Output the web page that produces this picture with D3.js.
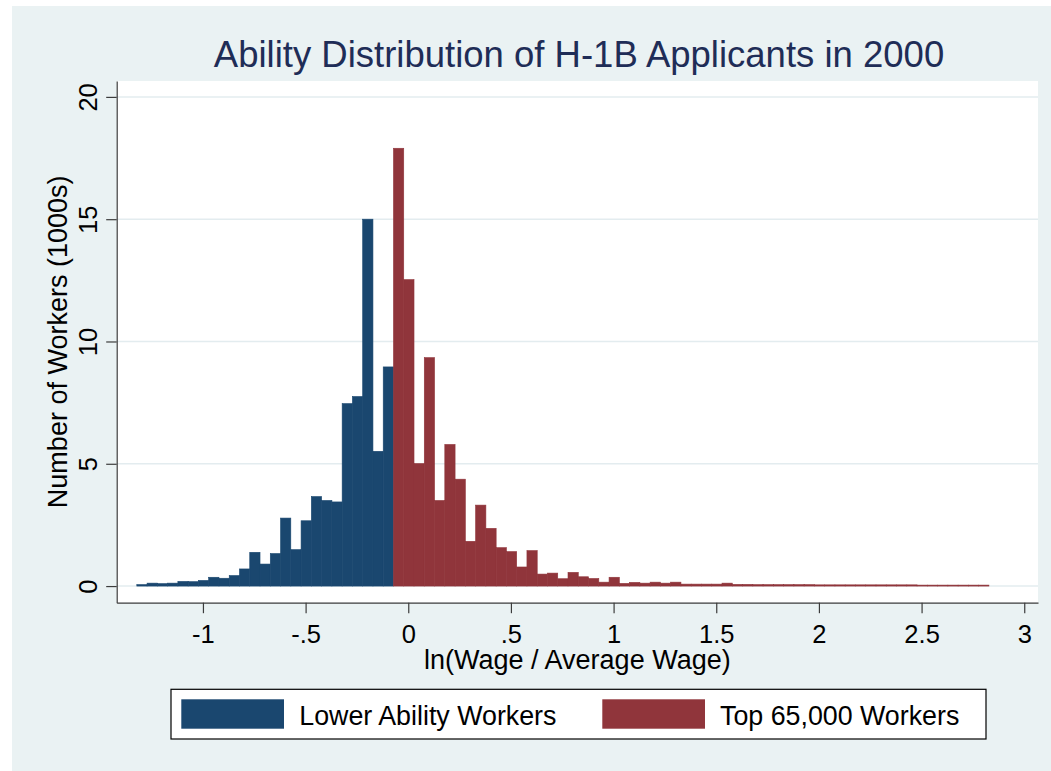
<!DOCTYPE html>
<html>
<head>
<meta charset="utf-8">
<script src="https://cdn.jsdelivr.net/npm/d3@7/dist/d3.min.js"></script>
<style>
  body { margin: 0; background: #ffffff; }
  svg text { font-family: "Liberation Sans", Arial, Helvetica, sans-serif; }
</style>
</head>
<body>
<div id="hist"></div>
<script>
// histogram bins: left edge of first bin and bin width (ln wage units)
var binStart = -1.322;
var binWidth = 0.05;

// counts in 1000s
var lowerCounts = [0.06, 0.12, 0.10, 0.12, 0.19, 0.18, 0.23, 0.36, 0.32, 0.43,
  0.70, 1.38, 0.90, 1.33, 2.78, 1.49, 2.67, 3.66, 3.50, 3.44,
  7.46, 7.75, 15.0, 5.51, 8.96];
var topCounts = [17.9, 12.53, 5.01, 9.34, 3.50, 5.79, 4.37, 1.83, 3.31, 2.36,
  1.57, 1.41, 0.78, 1.45, 0.49, 0.53, 0.30, 0.56, 0.38, 0.31,
  0.16, 0.36, 0.11, 0.15, 0.12, 0.16, 0.12, 0.16, 0.08, 0.08,
  0.08, 0.08, 0.12, 0.07, 0.07, 0.06, 0.06, 0.06, 0.06, 0.06,
  0.06, 0.05, 0.05, 0.05, 0.05, 0.05, 0.05, 0.05, 0.05, 0.05,
  0.05, 0.04, 0.04, 0.04, 0.04, 0.04, 0.04, 0.04];

var xTicks = [-1, -0.5, 0, 0.5, 1, 1.5, 2, 2.5, 3];
var yTicks = [0, 5, 10, 15, 20];
var seriesNames = ["Lower Ability Workers", "Top 65,000 Workers"];

var titleText = "Ability Distribution of H-1B Applicants in 2000";
var xTitle = "ln(Wage / Average Wage)";
var yTitle = "Number of Workers (1000s)";

histogram();

function histogram() {
  var width = 1051;
  var height = 771;
  var left = 116.7, right = 1038, top = 81, bottom = 602.7;
  var navy = "#1a476f";
  var maroon = "#90353b";

  var svg = d3.select("#hist")
    .append("svg")
    .attr("width", width)
    .attr("height", height);

  // graph region background
  svg.append("rect")
    .attr("x", 12)
    .attr("y", 6)
    .attr("width", width - 12)
    .attr("height", height - 6)
    .attr("fill", "#eaf2f3");

  // plot region
  svg.append("rect")
    .attr("x", left)
    .attr("y", top)
    .attr("width", right - left)
    .attr("height", bottom - top)
    .attr("fill", "#ffffff");

  var x = d3.scaleLinear()
    .domain([-1.42, 3.067])
    .range([left, right]);

  var y = d3.scaleLinear()
    .domain([-0.68, 20.65])
    .range([bottom, top]);

  // grid lines
  svg.selectAll("line.grid")
    .data(yTicks)
    .enter()
    .append("line")
    .attr("class", "grid")
    .attr("x1", left)
    .attr("x2", right)
    .attr("y1", function(d) { return y(d); })
    .attr("y2", function(d) { return y(d); })
    .attr("stroke", "#e3ecef")
    .attr("stroke-width", 1.5);

  var bars = [];
  lowerCounts.forEach(function(v, i) {
    bars.push({ x0: binStart + i * binWidth, v: v, c: navy });
  });
  topCounts.forEach(function(v, i) {
    var k = lowerCounts.length + i;
    bars.push({ x0: binStart + k * binWidth, v: v, c: maroon });
  });

  svg.selectAll("rect.bar")
    .data(bars)
    .enter()
    .append("rect")
    .attr("class", "bar")
    .attr("x", function(d) { return x(d.x0); })
    .attr("width", function(d) { return x(d.x0 + binWidth) - x(d.x0); })
    .attr("y", function(d) { return y(d.v); })
    .attr("height", function(d) { return y(0) - y(d.v); })
    .attr("fill", function(d) { return d.c; })
    .attr("stroke", function(d) { return d.c; })
    .attr("stroke-width", 0.6);

  // x axis
  var xAxis = svg.append("g")
    .attr("transform", "translate(0," + bottom + ")")
    .call(d3.axisBottom(x)
      .tickValues(xTicks)
      .tickSize(10.5)
      .tickSizeOuter(0)
      .tickPadding(5)
      .tickFormat(function(d) { return String(d).replace("0.", "."); }));
  xAxis.select(".domain").attr("stroke", "#3c3c3c").attr("stroke-width", 1.2);
  xAxis.selectAll(".tick line").attr("stroke", "#3c3c3c").attr("stroke-width", 1.2);
  xAxis.selectAll(".tick text")
    .attr("font-size", 25.5)
    .attr("fill", "#000")
    .attr("dy", 0)
    .attr("y", 40);

  // y axis
  var yAxis = svg.append("g")
    .attr("transform", "translate(" + left + ",0)")
    .call(d3.axisLeft(y)
      .tickValues(yTicks)
      .tickSize(10.5)
      .tickSizeOuter(0));
  yAxis.select(".domain").attr("stroke", "#3c3c3c").attr("stroke-width", 1.2);
  yAxis.selectAll(".tick line").attr("stroke", "#3c3c3c").attr("stroke-width", 1.2);
  yAxis.selectAll(".tick text")
    .attr("font-size", 25.5)
    .attr("fill", "#000")
    .attr("transform", "rotate(-90)")
    .attr("text-anchor", "middle")
    .attr("x", 0)
    .attr("y", -20)
    .attr("dy", 0);

  // titles
  svg.append("text")
    .attr("x", 579)
    .attr("y", 66.7)
    .attr("text-anchor", "middle")
    .attr("font-size", 36.5)
    .attr("fill", "#1f2d57")
    .text(titleText);

  svg.append("text")
    .attr("x", (left + right) / 2)
    .attr("y", 669)
    .attr("text-anchor", "middle")
    .attr("font-size", 27)
    .attr("fill", "#000")
    .text(xTitle);

  svg.append("text")
    .attr("transform", "translate(67," + ((top + bottom) / 2) + ") rotate(-90)")
    .attr("text-anchor", "middle")
    .attr("font-size", 27)
    .attr("fill", "#000")
    .text(yTitle);

  // legend
  var legend = svg.append("g");
  legend.append("rect")
    .attr("x", 171)
    .attr("y", 689.3)
    .attr("width", 815)
    .attr("height", 49.7)
    .attr("fill", "#ffffff")
    .attr("stroke", "#000")
    .attr("stroke-width", 1.2);

  var items = [
    { name: seriesNames[0], c: navy, sx: 181.3, tx: 299.3 },
    { name: seriesNames[1], c: maroon, sx: 602.3, tx: 720 }
  ];
  items.forEach(function(d) {
    legend.append("rect")
      .attr("x", d.sx)
      .attr("y", 699.3)
      .attr("width", 102.7)
      .attr("height", 29.4)
      .attr("fill", d.c);
    legend.append("text")
      .attr("x", d.tx)
      .attr("y", 725)
      .attr("font-size", 26.8)
      .attr("fill", "#000")
      .text(d.name);
  });
}
</script>
</body>
</html>
